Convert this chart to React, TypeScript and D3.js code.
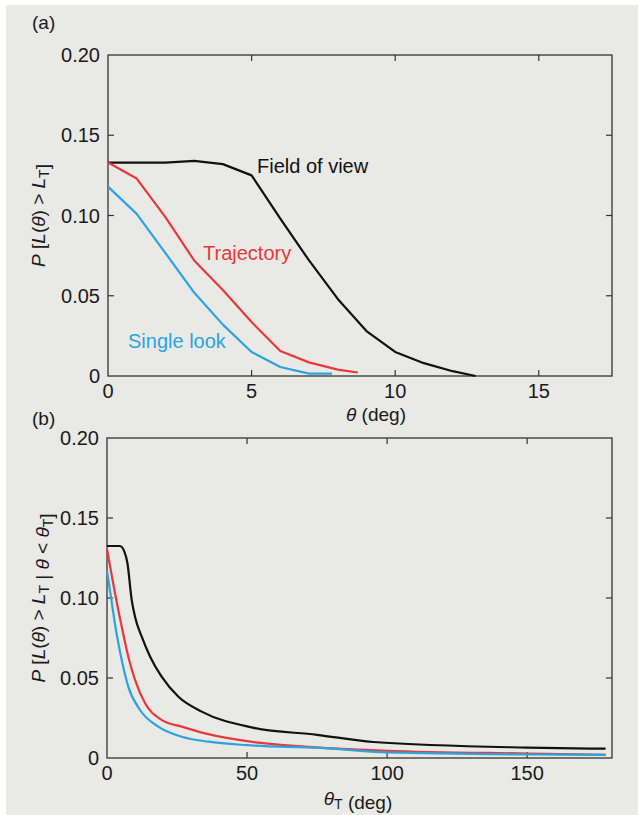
import React, { useRef, useEffect } from "react";
import * as d3 from "d3";

// panel (a): probability vs theta (deg), integer steps
const thetaA = [0, 1, 2, 3, 4, 5, 6, 7, 8, 9, 10, 11, 12, 12.8];
const fovA = [0.133, 0.133, 0.133, 0.134, 0.132, 0.125, 0.098, 0.072, 0.048, 0.028, 0.015, 0.008, 0.003, 0];
const trajThetaA = [0, 1, 2, 3, 4, 5, 6, 7, 8, 8.7];
const trajA = [0.133, 0.123, 0.099, 0.072, 0.0536, 0.0336, 0.0156, 0.0085, 0.004, 0.0022];
const singleThetaA = [0, 1, 2, 3, 4, 5, 6, 7, 7.8];
const singleA = [0.118, 0.101, 0.0766, 0.052, 0.032, 0.015, 0.0056, 0.0015, 0.0015];

// panel (b): conditional probability vs theta_T (deg)
const fovThetaB = [0, 4.6, 6.2, 7.3, 8.8, 10, 12.4, 15.4, 19.5, 25.5, 33.8, 52, 75, 95, 150, 178];
const fovB = [0.1325, 0.1325, 0.129, 0.1217, 0.099, 0.0883, 0.0758, 0.0633, 0.0508, 0.0383, 0.029, 0.019, 0.0145, 0.01, 0.0065, 0.0058];
const trajThetaB = [0, 3.1, 5.5, 7.6, 10, 13.6, 19.5, 26.7, 35, 55, 76, 100, 150, 178];
const trajB = [0.1306, 0.1008, 0.08, 0.0633, 0.0488, 0.0342, 0.0238, 0.0196, 0.0154, 0.0094, 0.0065, 0.0045, 0.0028, 0.002];
const singleThetaB = [0, 1.4, 3.2, 5.5, 7.6, 11.8, 18.3, 26.7, 36.2, 50, 76, 100, 150, 178];
const singleB = [0.117, 0.1008, 0.08, 0.0592, 0.0446, 0.03, 0.0196, 0.0133, 0.0102, 0.008, 0.0063, 0.0035, 0.0022, 0.002];

const yTicks = [0, 0.05, 0.1, 0.15, 0.2];
const yTickLabels = ["0", "0.05", "0.10", "0.15", "0.20"];
const xTicksA = [0, 5, 10, 15];
const xTicksB = [0, 50, 100, 150];

const BLACK = "#111111";
const RED = "#e8383b";
const BLUE = "#2ba4de";
const FONT = "'Liberation Sans', Arial, Helvetica, sans-serif";

const App = () => {
  const ref = useRef<SVGSVGElement>(null);

  useEffect(() => {
    const width = 638;
    const height = 815;
    const svg = d3.select(ref.current);
    svg.selectAll("*").remove();

    svg.append("rect").attr("width", width).attr("height", height).attr("fill", "#ffffff");
    svg.append("rect")
      .attr("x", 6).attr("y", 5)
      .attr("width", width - 6).attr("height", height - 5)
      .attr("fill", "#e9e9e6");

    const line = d3.line<[number, number]>();

    const drawPanel = (opts: {
      top: number; bottom: number; left: number; right: number;
      xMax: number; xTicks: number[]; tag: string;
      series: { xs: number[]; ys: number[]; color: string }[];
      curve: any;
      yLabel: (t: any) => void;
      xLabel: (t: any) => void;
      tagY: number; xLabelY: number; xLabelX: number;
    }) => {
      const x = d3.scaleLinear().domain([0, opts.xMax]).range([opts.left, opts.right]);
      const y = d3.scaleLinear().domain([0, 0.2]).range([opts.bottom, opts.top]);
      const g = svg.append("g");

      // frame
      g.append("rect")
        .attr("x", opts.left).attr("y", opts.top)
        .attr("width", opts.right - opts.left).attr("height", opts.bottom - opts.top)
        .attr("fill", "none").attr("stroke", "#333").attr("stroke-width", 1.3);

      const tl = 6;
      // inward ticks, all four sides
      yTicks.slice(1, -1).forEach((v) => {
        g.append("line").attr("x1", opts.left).attr("x2", opts.left + tl)
          .attr("y1", y(v)).attr("y2", y(v)).attr("stroke", "#333").attr("stroke-width", 1.2);
        g.append("line").attr("x1", opts.right).attr("x2", opts.right - tl)
          .attr("y1", y(v)).attr("y2", y(v)).attr("stroke", "#333").attr("stroke-width", 1.2);
      });
      opts.xTicks.slice(1).forEach((v) => {
        g.append("line").attr("x1", x(v)).attr("x2", x(v))
          .attr("y1", opts.bottom).attr("y2", opts.bottom - tl).attr("stroke", "#333").attr("stroke-width", 1.2);
        g.append("line").attr("x1", x(v)).attr("x2", x(v))
          .attr("y1", opts.top).attr("y2", opts.top + tl).attr("stroke", "#333").attr("stroke-width", 1.2);
      });

      // tick labels
      yTicks.forEach((v, i) => {
        g.append("text").attr("x", opts.left - 8).attr("y", y(v) + 7)
          .attr("text-anchor", "end").attr("font-size", 20).attr("font-family", FONT)
          .attr("fill", "#1a1a1a").text(yTickLabels[i]);
      });
      opts.xTicks.forEach((v) => {
        g.append("text").attr("x", x(v)).attr("y", opts.bottom + 22)
          .attr("text-anchor", "middle").attr("font-size", 20).attr("font-family", FONT)
          .attr("fill", "#1a1a1a").text(String(v));
      });

      // curves
      opts.series.forEach((s) => {
        const pts = s.xs.map((xv, i) => [x(xv), y(s.ys[i])] as [number, number]);
        g.append("path")
          .attr("d", line.curve(opts.curve)(pts))
          .attr("fill", "none").attr("stroke", s.color).attr("stroke-width", 2.2)
          .attr("stroke-linejoin", "round");
      });

      // panel tag
      g.append("text").attr("x", 32).attr("y", opts.tagY)
        .attr("font-size", 19).attr("font-family", FONT).attr("fill", "#1a1a1a").text(opts.tag);

      // axis labels
      const yl = g.append("text")
        .attr("transform", `translate(45,${(opts.top + opts.bottom) / 2}) rotate(-90)`)
        .attr("text-anchor", "middle").attr("font-size", 19).attr("font-family", FONT)
        .attr("fill", "#1a1a1a");
      opts.yLabel(yl);

      const xl = g.append("text").attr("x", opts.xLabelX).attr("y", opts.xLabelY)
        .attr("text-anchor", "middle").attr("font-size", 19).attr("font-family", FONT)
        .attr("fill", "#1a1a1a");
      opts.xLabel(xl);

      return { x, y, g };
    };

    const sub = (t: any, s: string) => {
      t.append("tspan").attr("font-size", 14).attr("dy", 4).text(s);
      t.append("tspan").attr("dy", -4).text("");
    };

    const a = drawPanel({
      top: 55, bottom: 376, left: 108, right: 612, xMax: 17.55, xTicks: xTicksA, tag: "(a)",
      tagY: 29, xLabelY: 421, xLabelX: 376,
      curve: d3.curveLinear,
      series: [
        { xs: thetaA, ys: fovA, color: BLACK },
        { xs: trajThetaA, ys: trajA, color: RED },
        { xs: singleThetaA, ys: singleA, color: BLUE },
      ],
      yLabel: (t) => {
        t.append("tspan").attr("font-style", "italic").text("P");
        t.append("tspan").text(" [");
        t.append("tspan").attr("font-style", "italic").text("L");
        t.append("tspan").text("(");
        t.append("tspan").attr("font-style", "italic").text("θ");
        t.append("tspan").text(") > ");
        t.append("tspan").attr("font-style", "italic").text("L");
        sub(t, "T");
        t.append("tspan").text("]");
      },
      xLabel: (t) => {
        t.append("tspan").attr("font-style", "italic").text("θ");
        t.append("tspan").text(" (deg)");
      },
    });

    a.g.append("text").attr("x", 257).attr("y", 173).attr("font-size", 20)
      .attr("font-family", FONT).attr("fill", BLACK).text("Field of view");
    a.g.append("text").attr("x", 203).attr("y", 260).attr("font-size", 20)
      .attr("font-family", FONT).attr("fill", RED).text("Trajectory");
    a.g.append("text").attr("x", 128).attr("y", 348).attr("font-size", 20)
      .attr("font-family", FONT).attr("fill", BLUE).text("Single look");

    drawPanel({
      top: 438, bottom: 758, left: 107, right: 612, xMax: 180.3, xTicks: xTicksB, tag: "(b)",
      tagY: 425, xLabelY: 805, xLabelX: 358,
      curve: d3.curveMonotoneX,
      series: [
        { xs: fovThetaB, ys: fovB, color: BLACK },
        { xs: trajThetaB, ys: trajB, color: RED },
        { xs: singleThetaB, ys: singleB, color: BLUE },
      ],
      yLabel: (t) => {
        t.append("tspan").attr("font-style", "italic").text("P");
        t.append("tspan").text(" [");
        t.append("tspan").attr("font-style", "italic").text("L");
        t.append("tspan").text("(");
        t.append("tspan").attr("font-style", "italic").text("θ");
        t.append("tspan").text(") > ");
        t.append("tspan").attr("font-style", "italic").text("L");
        sub(t, "T");
        t.append("tspan").text(" | ");
        t.append("tspan").attr("font-style", "italic").text("θ");
        t.append("tspan").text(" < ");
        t.append("tspan").attr("font-style", "italic").text("θ");
        sub(t, "T");
        t.append("tspan").text("]");
      },
      xLabel: (t) => {
        t.append("tspan").attr("font-style", "italic").text("θ");
        sub(t, "T");
        t.append("tspan").text(" (deg)");
      },
    });
  }, []);

  return (
    <svg
      ref={ref}
      width={638}
      height={815}
      style={{ position: "absolute", left: 0, top: 0 }}
    />
  );
};

export default App;
